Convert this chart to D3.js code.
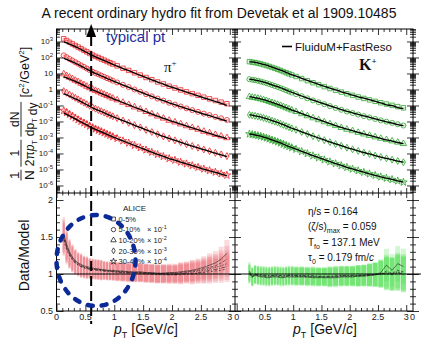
<!DOCTYPE html>
<html>
<head>
<meta charset="utf-8">
<script src="https://cdn.jsdelivr.net/npm/d3@7"></script>
<style>
  body { margin: 0; background: #fff; }
  svg { display: block; font-family: "Liberation Sans", Arial, sans-serif; }
</style>
</head>
<body>
<svg id="chart" width="421" height="343"></svg>
<script>
// ---- data ----
const centralities = ["0-5%", "5-10%", "10-20%", "20-30%", "30-40%"];
const scaleExp = [null, -1, -2, -3, -4];

const piPt = [0.125, 0.175, 0.225, 0.275, 0.325, 0.375, 0.425, 0.475, 0.525, 0.575, 0.625, 0.675, 0.725, 0.775, 0.825, 0.875, 0.925, 0.975,
  1.05, 1.15, 1.25, 1.35, 1.45, 1.55, 1.65, 1.75, 1.85, 1.95,
  2.05, 2.15, 2.25, 2.35, 2.45, 2.55, 2.65, 2.75, 2.85, 2.95];
const kPt = [0.225, 0.275, 0.325, 0.375, 0.425, 0.475, 0.525, 0.575, 0.625, 0.675, 0.725, 0.775, 0.825, 0.875, 0.925, 0.975,
  1.05, 1.15, 1.25, 1.35, 1.45, 1.55, 1.65, 1.75, 1.85, 1.95,
  2.05, 2.15, 2.25, 2.35, 2.45, 2.55, 2.65, 2.75, 2.85, 2.95];

// pi+ spectra, already multiplied by the legend scale factors
const piSpec0005 = [1480, 1150, 890, 710, 560, 450, 355, 280, 225, 178, 141, 117, 98, 81, 68, 56, 47, 39,
  30, 21, 15.5, 11, 7.9, 5.6, 4.1, 2.95, 2.2, 1.6,
  1.23, 0.93, 0.71, 0.55, 0.43, 0.33, 0.26, 0.204, 0.162, 0.129];
const piSpec0510 = [135, 105, 81, 65, 51, 41, 32, 26, 20.4, 16.2, 12.9, 10.7, 8.9, 7.4, 6.2, 5.1, 4.3, 3.55,
  2.75, 1.95, 1.41, 1.0, 0.72, 0.51, 0.37, 0.27, 0.2, 0.148,
  0.113, 0.086, 0.066, 0.051, 0.040, 0.031, 0.025, 0.0195, 0.0157, 0.0125];
const piSpec1020 = [9.3, 7.2, 5.75, 4.6, 3.7, 3.0, 2.4, 1.95, 1.55, 1.26, 1.02, 0.85, 0.71, 0.59, 0.49, 0.41, 0.34, 0.28,
  0.22, 0.155, 0.112, 0.079, 0.058, 0.041, 0.0295, 0.0214, 0.0158, 0.0117,
  0.0091, 0.0069, 0.0053, 0.0041, 0.0032, 0.0024, 0.0019, 0.0015, 0.0012, 0.00095];
const piSpec2030 = [0.79, 0.62, 0.48, 0.38, 0.30, 0.24, 0.19, 0.151, 0.12, 0.095, 0.076, 0.063, 0.052, 0.044, 0.036, 0.030, 0.025, 0.021,
  0.0162, 0.0115, 0.0083, 0.0059, 0.0043, 0.0030, 0.0022, 0.0016, 0.00117, 0.00087,
  6.6e-4, 5.0e-4, 3.8e-4, 2.95e-4, 2.3e-4, 1.78e-4, 1.4e-4, 1.1e-4, 8.7e-5, 6.9e-5];
const piSpec3040 = [0.048, 0.036, 0.0275, 0.0214, 0.0166, 0.0129, 0.0102, 0.0081, 0.0065, 0.0051, 0.0041, 0.0034, 0.0028, 0.00234, 0.00195, 0.00162, 0.00135, 0.00112,
  8.7e-4, 6.2e-4, 4.5e-4, 3.2e-4, 2.3e-4, 1.66e-4, 1.2e-4, 8.7e-5, 6.5e-5, 4.8e-5,
  3.8e-5, 2.9e-5, 2.25e-5, 1.75e-5, 1.37e-5, 1.07e-5, 8.5e-6, 6.8e-6, 5.4e-6, 4.4e-6];

// pi+ data/model
const piRat0005 = [1.55, 1.40, 1.30, 1.23, 1.18, 1.15, 1.13, 1.11, 1.10, 1.09, 1.08, 1.07, 1.07, 1.06, 1.06, 1.05, 1.05, 1.05,
  1.04, 1.04, 1.03, 1.03, 1.03, 1.02, 1.02, 1.01, 1.01, 1.02,
  1.02, 1.03, 1.04, 1.05, 1.07, 1.09, 1.12, 1.15, 1.20, 1.28];
const piRat0510 = [1.52, 1.38, 1.28, 1.22, 1.17, 1.14, 1.12, 1.10, 1.09, 1.08, 1.07, 1.07, 1.06, 1.06, 1.05, 1.05, 1.04, 1.04,
  1.04, 1.03, 1.03, 1.02, 1.02, 1.02, 1.01, 1.01, 1.01, 1.01,
  1.01, 1.02, 1.03, 1.04, 1.05, 1.07, 1.09, 1.11, 1.15, 1.20];
const piRat1020 = [1.50, 1.36, 1.27, 1.21, 1.16, 1.13, 1.11, 1.09, 1.08, 1.07, 1.07, 1.06, 1.06, 1.05, 1.05, 1.04, 1.04, 1.04,
  1.03, 1.03, 1.02, 1.02, 1.02, 1.01, 1.01, 1.00, 1.00, 1.00,
  1.00, 1.01, 1.02, 1.03, 1.04, 1.05, 1.07, 1.09, 1.11, 1.14];
const piRat2030 = [1.48, 1.35, 1.26, 1.20, 1.15, 1.12, 1.10, 1.09, 1.08, 1.07, 1.06, 1.06, 1.05, 1.05, 1.04, 1.04, 1.04, 1.03,
  1.03, 1.02, 1.02, 1.02, 1.01, 1.01, 1.00, 1.00, 1.00, 0.99,
  0.99, 1.00, 1.01, 1.01, 1.02, 1.03, 1.05, 1.06, 1.08, 1.10];
const piRat3040 = [1.46, 1.33, 1.25, 1.19, 1.15, 1.12, 1.10, 1.08, 1.07, 1.06, 1.06, 1.05, 1.05, 1.04, 1.04, 1.03, 1.03, 1.03,
  1.02, 1.02, 1.01, 1.01, 1.01, 1.00, 1.00, 0.99, 0.99, 0.99,
  0.99, 0.99, 1.00, 1.00, 1.01, 1.02, 1.03, 1.04, 1.05, 1.07];
const piErr = [0.22, 0.20, 0.18, 0.17, 0.16, 0.15, 0.15, 0.14, 0.14, 0.13, 0.13, 0.13, 0.13, 0.13, 0.12, 0.12, 0.12, 0.12,
  0.12, 0.12, 0.12, 0.12, 0.12, 0.12, 0.12, 0.12, 0.12, 0.12,
  0.12, 0.13, 0.13, 0.14, 0.14, 0.15, 0.16, 0.16, 0.17, 0.18];

// K+ spectra, already multiplied by the legend scale factors
const kSpec0005 = [55, 51, 48, 44, 40, 35.5, 31.6, 27.5, 24, 20.9, 18.2, 15.5, 13.2, 11.2, 9.5, 8.1,
  6.5, 4.8, 3.55, 2.63, 2.0, 1.51, 1.15, 0.89, 0.69, 0.54,
  0.43, 0.34, 0.275, 0.224, 0.182, 0.148, 0.123, 0.102, 0.085, 0.071];
const kSpec0510 = [4.4, 4.05, 3.8, 3.5, 3.15, 2.8, 2.5, 2.18, 1.9, 1.65, 1.44, 1.23, 1.05, 0.89, 0.75, 0.64,
  0.515, 0.38, 0.28, 0.208, 0.158, 0.12, 0.091, 0.07, 0.054, 0.042,
  0.034, 0.027, 0.0217, 0.0177, 0.0144, 0.0117, 0.0097, 0.0081, 0.0067, 0.0056];
const kSpec1020 = [0.35, 0.32, 0.30, 0.28, 0.25, 0.224, 0.2, 0.173, 0.151, 0.132, 0.115, 0.098, 0.083, 0.071, 0.06, 0.051,
  0.041, 0.03, 0.0224, 0.0166, 0.0126, 0.0094, 0.0071, 0.0054, 0.0041, 0.0032,
  0.0026, 0.00205, 0.00163, 0.00132, 0.00107, 0.00087, 0.00072, 0.0006, 0.0005, 0.00041];
const kSpec2030 = [0.026, 0.024, 0.0225, 0.0207, 0.0188, 0.0167, 0.0148, 0.0129, 0.0112, 0.0098, 0.0085, 0.0072, 0.0061, 0.0052, 0.0044, 0.0037,
  0.003, 0.0022, 0.00163, 0.0012, 0.0009, 0.00068, 0.00051, 0.00039, 0.0003, 0.00023,
  1.82e-4, 1.43e-4, 1.14e-4, 9.2e-5, 7.4e-5, 6.0e-5, 5.0e-5, 4.1e-5, 3.4e-5, 2.85e-5];
const kSpec3040 = [1.65e-3, 1.53e-3, 1.43e-3, 1.31e-3, 1.19e-3, 1.05e-3, 9.3e-4, 8.1e-4, 7.0e-4, 6.1e-4, 5.3e-4, 4.5e-4, 3.8e-4, 3.2e-4, 2.7e-4, 2.3e-4,
  1.83e-4, 1.34e-4, 9.8e-5, 7.2e-5, 5.4e-5, 4.0e-5, 3.0e-5, 2.3e-5, 1.75e-5, 1.35e-5,
  1.06e-5, 8.3e-6, 6.6e-6, 5.3e-6, 4.3e-6, 3.45e-6, 2.85e-6, 2.35e-6, 1.93e-6, 1.6e-6];

// K+ data/model
const kRat0005 = [1.04, 0.97, 0.98, 0.97, 0.96, 0.96, 0.95, 0.95, 0.96, 0.96, 0.96, 0.95, 0.95, 0.96, 0.96, 0.96,
  0.96, 0.96, 0.96, 0.95, 0.95, 0.95, 0.95, 0.95, 0.96, 0.96,
  0.96, 0.97, 0.97, 0.98, 0.99, 1.02, 1.12, 1.05, 1.14, 1.10];
const kRat0510 = [1.02, 0.96, 0.99, 0.98, 0.97, 0.97, 0.96, 0.96, 0.97, 0.97, 0.97, 0.96, 0.96, 0.97, 0.97, 0.97,
  0.97, 0.97, 0.96, 0.96, 0.96, 0.96, 0.96, 0.96, 0.97, 0.97,
  0.97, 0.97, 0.98, 0.98, 0.99, 1.00, 1.04, 1.01, 1.05, 1.03];
const kRat1020 = [0.99, 0.95, 1.00, 0.98, 0.98, 0.97, 0.97, 0.97, 0.97, 0.98, 0.97, 0.97, 0.97, 0.97, 0.98, 0.98,
  0.97, 0.97, 0.97, 0.97, 0.96, 0.96, 0.96, 0.97, 0.97, 0.97,
  0.97, 0.98, 0.98, 0.99, 0.99, 1.00, 1.02, 1.00, 1.03, 1.01];
const kRat2030 = [1.01, 0.96, 0.99, 0.99, 0.98, 0.98, 0.98, 0.97, 0.98, 0.98, 0.98, 0.98, 0.97, 0.98, 0.98, 0.98,
  0.98, 0.98, 0.97, 0.97, 0.97, 0.97, 0.97, 0.97, 0.98, 0.98,
  0.98, 0.98, 0.99, 0.99, 1.00, 1.00, 1.01, 1.00, 1.02, 1.00];
const kRat3040 = [1.00, 0.97, 1.00, 0.99, 0.99, 0.99, 0.98, 0.98, 0.98, 0.99, 0.99, 0.98, 0.98, 0.98, 0.99, 0.99,
  0.98, 0.98, 0.98, 0.98, 0.97, 0.97, 0.97, 0.98, 0.98, 0.98,
  0.98, 0.98, 0.98, 0.99, 0.99, 1.00, 1.00, 0.99, 1.01, 0.99];
const kErr = [0.12, 0.12, 0.12, 0.12, 0.12, 0.12, 0.12, 0.12, 0.12, 0.12, 0.12, 0.12, 0.12, 0.12, 0.12, 0.12,
  0.12, 0.12, 0.12, 0.12, 0.12, 0.12, 0.13, 0.13, 0.13, 0.13,
  0.13, 0.14, 0.14, 0.15, 0.16, 0.18, 0.22, 0.22, 0.24, 0.24];

// tick labels
const specExps = [3, 2, 1, 0, -1, -2, -3, -4, -5, -6];
const ratioTicks = [0.5, 1, 1.5, 2];
const ptTicks = [0, 0.5, 1, 1.5, 2, 2.5, 3];

// ---- layout ----
const svg = d3.select("#chart");
const frame = {left: 56.5, mid: 235, right: 413, top: 29, split: 193, bottom: 311};

const xPi = d3.scaleLinear().domain([0, 3.09]).range([frame.left, frame.mid]);
const xK = d3.scaleLinear().domain([-0.03, 3.12]).range([frame.mid, frame.right]);
const ySpec = d3.scaleLog().domain([Math.pow(10, -6.47), Math.pow(10, 3.78)]).range([frame.split, frame.top]);
const yRat = d3.scaleLinear().domain([0.5, 2.095]).range([frame.bottom, frame.split]);

const symbols = [d3.symbolSquare, d3.symbolCircle, d3.symbolTriangle, d3.symbolDiamond, d3.symbolStar];
const symSize = [20, 20, 18, 14, 18];
const legSize = [15, 15, 13, 10, 13];

const panels = [
  {id: "pi", x: xPi, pt: piPt, spec: [piSpec0005, piSpec0510, piSpec1020, piSpec2030, piSpec3040],
   rat: [piRat0005, piRat0510, piRat1020, piRat2030, piRat3040], err: piErr,
   mark: "#e8262a", box: "#f5a0a0", band: "#ec6a70"},
  {id: "k", x: xK, pt: kPt, spec: [kSpec0005, kSpec0510, kSpec1020, kSpec2030, kSpec3040],
   rat: [kRat0005, kRat0510, kRat1020, kRat2030, kRat3040], err: kErr,
   mark: "#2fa52f", box: "#a6e3a6", band: "#46dc46"}
];

const defs = svg.append("defs");
panels.forEach(p => {
  const [x0, x1] = p.x.range();
  defs.append("clipPath").attr("id", "top-" + p.id).append("rect")
    .attr("x", x0).attr("y", frame.top).attr("width", x1 - x0).attr("height", frame.split - frame.top);
  defs.append("clipPath").attr("id", "bot-" + p.id).append("rect")
    .attr("x", x0).attr("y", frame.split).attr("width", x1 - x0).attr("height", frame.bottom - frame.split);
});

function binEdges(pt, i) {
  const lo = i > 0 ? (pt[i] - pt[i - 1]) / 2 : (pt[1] - pt[0]) / 2;
  const hi = i < pt.length - 1 ? (pt[i + 1] - pt[i]) / 2 : (pt[i] - pt[i - 1]) / 2;
  return [pt[i] - lo, pt[i] + hi];
}

panels.forEach(p => {
  // spectra
  const gTop = svg.append("g").attr("clip-path", `url(#top-${p.id})`);
  p.spec.forEach((s, c) => {
    const pts = p.pt.map((pt, i) => ({pt, v: s[i], i}));
    gTop.append("g").selectAll("rect").data(pts).enter().append("rect")
      .attr("x", d => p.x(binEdges(p.pt, d.i)[0]) + 0.3)
      .attr("width", d => Math.max(0.5, p.x(binEdges(p.pt, d.i)[1]) - p.x(binEdges(p.pt, d.i)[0]) - 0.6))
      .attr("y", d => ySpec(d.v * 1.14))
      .attr("height", d => ySpec(d.v / 1.14) - ySpec(d.v * 1.14))
      .attr("fill", p.box).attr("opacity", 0.75);
    gTop.append("g").selectAll("path").data(pts).enter().append("path")
      .attr("transform", d => `translate(${p.x(d.pt)},${ySpec(d.v)})`)
      .attr("d", d3.symbol().type(symbols[c]).size(symSize[c]))
      .attr("fill", "none").attr("stroke", p.mark).attr("stroke-width", 0.8);
  });
  p.spec.forEach((s, c) => {
    const model = p.pt.map((pt, i) => ({pt, v: s[i] / p.rat[c][i]}));
    gTop.append("path").datum(model)
      .attr("d", d3.line().x(d => p.x(d.pt)).y(d => ySpec(d.v)).curve(d3.curveMonotoneX))
      .attr("fill", "none").attr("stroke", "#000").attr("stroke-width", 1.3);
  });

  // data / model
  const gBot = svg.append("g").attr("clip-path", `url(#bot-${p.id})`);
  p.rat.forEach((r, c) => {
    gBot.append("g").selectAll("rect").data(p.pt).enter().append("rect")
      .attr("x", (d, i) => p.x(binEdges(p.pt, i)[0]) + 0.35)
      .attr("width", (d, i) => Math.max(0.5, p.x(binEdges(p.pt, i)[1]) - p.x(binEdges(p.pt, i)[0]) - 0.7))
      .attr("y", (d, i) => yRat(r[i] + p.err[i]))
      .attr("height", (d, i) => yRat(r[i] - p.err[i]) - yRat(r[i] + p.err[i]))
      .attr("fill", p.band).attr("opacity", 0.24);
  });
  const dashes = [null, "3,1.5", "1.5,1.2", "4,1.5,1,1.5", "2,2"];
  p.rat.forEach((r, c) => {
    gBot.append("path").datum(p.pt.map((pt, i) => [pt, r[i]]))
      .attr("d", d3.line().x(d => p.x(d[0])).y(d => yRat(d[1])))
      .attr("fill", "none").attr("stroke", "#222").attr("stroke-width", 0.6)
      .attr("stroke-dasharray", dashes[c]);
  });
});

// unity line
svg.append("line").attr("x1", frame.left).attr("x2", 421)
  .attr("y1", yRat(1)).attr("y2", yRat(1)).attr("stroke", "#000").attr("stroke-width", 1);

// ---- axes (ROOT style: ticks inside, both sides on shared edges) ----
function tickAxis(orient, scale, values, size, tx, ty) {
  const axis = orient(scale).tickValues(values).tickSize(size).tickSizeOuter(0).tickFormat("");
  const g = svg.append("g").attr("transform", `translate(${tx},${ty})`).call(axis);
  g.select(".domain").remove();
  g.selectAll("text").remove();
  g.selectAll("line").attr("stroke", "#000").attr("stroke-width", 0.8);
}

const specMajor = specExps.map(k => Math.pow(10, k));
const specMinor = [];
for (let k = -7; k <= 3; k++) for (let m = 2; m <= 9; m++) {
  const v = m * Math.pow(10, k);
  if (v > ySpec.domain()[0] && v < ySpec.domain()[1]) specMinor.push(v);
}
const ratMinor = d3.range(6, 21).map(d => d / 10).filter(v => Math.abs(v * 2 - Math.round(v * 2)) > 1e-6);
const ptMinor = d3.range(1, 31).map(d => d / 10).filter(v => Math.abs(v * 2 - Math.round(v * 2)) > 1e-6);

// vertical edges
tickAxis(d3.axisRight, ySpec, specMajor, 7, frame.left, 0);
tickAxis(d3.axisRight, ySpec, specMinor, 3.5, frame.left, 0);
tickAxis(d3.axisRight, yRat, ratioTicks, 7, frame.left, 0);
tickAxis(d3.axisRight, yRat, ratMinor, 3.5, frame.left, 0);
[frame.mid, frame.right].forEach(xe => {
  [d3.axisLeft, d3.axisRight].forEach(o => {
    tickAxis(o, ySpec, specMajor, 6, xe, 0);
    tickAxis(o, ySpec, specMinor, 3, xe, 0);
    tickAxis(o, yRat, ratioTicks, 6, xe, 0);
    tickAxis(o, yRat, ratMinor, 3, xe, 0);
  });
});
// horizontal edges
panels.forEach(p => {
  tickAxis(d3.axisBottom, p.x, ptTicks, 6, 0, frame.top);
  tickAxis(d3.axisBottom, p.x, ptMinor, 3, 0, frame.top);
  [d3.axisTop, d3.axisBottom].forEach(o => {
    tickAxis(o, p.x, ptTicks, 5, 0, frame.split);
    tickAxis(o, p.x, ptMinor, 2.5, 0, frame.split);
  });
  tickAxis(d3.axisTop, p.x, ptTicks, 6, 0, frame.bottom);
  tickAxis(d3.axisTop, p.x, ptMinor, 3, 0, frame.bottom);
});

// frame
const frameG = svg.append("g").attr("fill", "none").attr("stroke", "#000").attr("stroke-width", 1);
frameG.append("rect").attr("x", frame.left).attr("y", frame.top)
  .attr("width", frame.right - frame.left).attr("height", frame.bottom - frame.top);
frameG.append("line").attr("x1", frame.left).attr("x2", frame.right).attr("y1", frame.split).attr("y2", frame.split);
frameG.append("line").attr("x1", frame.mid).attr("x2", frame.mid).attr("y1", frame.top).attr("y2", frame.bottom);

// tick labels
const lab = svg.append("g").attr("fill", "#222").attr("font-size", 9);
specExps.forEach(k => {
  const t = lab.append("text").attr("x", 53).attr("y", ySpec(Math.pow(10, k)) + 3)
    .attr("text-anchor", "end").attr("font-size", 8);
  if (k === 0) t.text("1");
  else if (k === 1) t.text("10");
  else {
    t.append("tspan").text("10");
    t.append("tspan").attr("dy", -3.5).attr("font-size", 6).text(k);
  }
});
ratioTicks.forEach(v => {
  lab.append("text").attr("x", 53).attr("y", yRat(v) + 3.2).attr("text-anchor", "end").text(v);
});
panels.forEach(p => {
  ptTicks.forEach(v => {
    lab.append("text").attr("x", p.x(v)).attr("y", 320).attr("text-anchor", "middle").text(v);
  });
});
lab.append("text").attr("x", frame.right - 0.5).attr("y", 320).attr("text-anchor", "middle").text(0);

// axis titles
function ptTitle(cx) {
  const t = svg.append("text").attr("x", cx).attr("y", 334).attr("text-anchor", "middle")
    .attr("font-size", 14).attr("fill", "#111");
  t.append("tspan").attr("font-style", "italic").text("p");
  t.append("tspan").attr("font-size", 9).attr("dy", 4).text("T");
  t.append("tspan").attr("dy", -4).text(" [GeV/");
  t.append("tspan").attr("font-style", "italic").text("c");
  t.append("tspan").text("]");
}
ptTitle(146);
ptTitle(325);

svg.append("text").attr("transform", `translate(29,${yRat(1.25)}) rotate(-90)`)
  .attr("text-anchor", "middle").attr("font-size", 14).attr("fill", "#111").text("Data/Model");

// spectra y title built from fractions, rotated
const yt = svg.append("g").attr("transform", "translate(21,110) rotate(-90)").attr("fill", "#111");
let pos = -70;
function fraction(num, denParts, fs) {
  const den = yt.append("text").attr("y", 12.5).attr("font-size", fs).attr("text-anchor", "middle");
  denParts.forEach(([txt, sub, it]) => {
    const s = den.append("tspan").text(txt);
    if (it) s.attr("font-style", "italic");
    if (sub) {
      den.append("tspan").attr("font-size", fs * 0.6).attr("dy", 3).text(sub);
      den.append("tspan").attr("dy", -3).text("");
    }
  });
  const w = den.node().getComputedTextLength();
  den.attr("x", pos + w / 2);
  yt.append("text").attr("x", pos + w / 2).attr("y", -2.5).attr("font-size", fs)
    .attr("text-anchor", "middle").text(num);
  yt.append("line").attr("x1", pos - 0.5).attr("x2", pos + w + 0.5).attr("y1", 0).attr("y2", 0)
    .attr("stroke", "#111").attr("stroke-width", 0.9);
  pos += w + 4;
}
fraction("1", [["N", null, false]], 13.5);
fraction("1", [["2π", null, false], ["p", "T", true]], 12);
fraction("dN", [["dp", "T", false], [" dy", null, false]], 12);
{
  const b = yt.append("text").attr("x", pos + 1).attr("y", 8).attr("font-size", 12.5);
  b.append("tspan").text("[");
  b.append("tspan").attr("font-style", "italic").text("c");
  b.append("tspan").attr("font-size", 8).attr("dy", -5).text("2");
  b.append("tspan").attr("dy", 5).text("/GeV");
  b.append("tspan").attr("font-size", 8).attr("dy", -5).text("2");
  b.append("tspan").attr("dy", 5).text("]");
}

// title
svg.append("text").attr("x", 219).attr("y", 18).attr("text-anchor", "middle")
  .attr("font-size", 14).attr("fill", "#111")
  .text("A recent ordinary hydro fit from Devetak et al 1909.10485");

// species labels
const piLab = svg.append("text").attr("x", 164).attr("y", 72).attr("font-family", "Liberation Serif, serif")
  .attr("font-size", 15).attr("fill", "#111");
piLab.append("tspan").text("π");
piLab.append("tspan").attr("dy", -6).attr("font-size", 9).text("+");
const kLab = svg.append("text").attr("x", 359).attr("y", 70).attr("font-family", "Liberation Serif, serif")
  .attr("font-weight", "bold").attr("font-size", 16).attr("fill", "#111");
kLab.append("tspan").text("K");
kLab.append("tspan").attr("dy", -6).attr("font-size", 9).text("+");

// model legend
svg.append("line").attr("x1", 282).attr("x2", 292).attr("y1", 46.5).attr("y2", 46.5)
  .attr("stroke", "#000").attr("stroke-width", 1.6);
svg.append("text").attr("x", 295).attr("y", 50.5).attr("font-size", 11.5).attr("fill", "#111")
  .text("FluiduM+FastReso");

// ALICE legend
const leg = svg.append("g").attr("fill", "#222");
leg.append("text").attr("x", 123).attr("y", 211).attr("font-size", 8).text("ALICE");
centralities.forEach((c, i) => {
  const ly = 219 + i * 10.6;
  leg.append("path").attr("transform", `translate(113.5,${ly})`)
    .attr("d", d3.symbol().type(symbols[i]).size(legSize[i])).attr("fill", "none")
    .attr("stroke", "#222").attr("stroke-width", 0.8);
  leg.append("text").attr("x", 118.5).attr("y", ly + 2.8).attr("font-size", 7.5).text(c);
  if (scaleExp[i] !== null) {
    const t = leg.append("text").attr("x", 147).attr("y", ly + 2.8).attr("font-size", 7.5);
    t.append("tspan").text("× 10");
    t.append("tspan").attr("dy", -3).attr("font-size", 5.5).text(scaleExp[i]);
  }
});

// fit parameters
const fp = svg.append("g").attr("fill", "#111").attr("font-size", 10);
function param(i, main, sub, rest, italicTail) {
  const t = fp.append("text").attr("x", 308).attr("y", 215 + i * 15.3);
  t.append("tspan").text(main);
  if (sub) {
    t.append("tspan").attr("font-size", 7).attr("dy", 3).text(sub);
    t.append("tspan").attr("dy", -3).text(rest);
  }
  if (italicTail) t.append("tspan").attr("font-style", "italic").text(italicTail);
}
param(0, "η/s = 0.164");
param(1, "(ζ/s)", "max", " = 0.059");
param(2, "T", "fo", " = 137.1 MeV");
param(3, "τ", "0", " = 0.179 fm/", "c");

// "typical pt" annotation
const typPt = 0.6;
svg.append("line").attr("x1", xPi(typPt)).attr("x2", xPi(typPt)).attr("y1", 36).attr("y2", 324)
  .attr("stroke", "#000").attr("stroke-width", 2).attr("stroke-dasharray", "10,5");
svg.append("path")
  .attr("d", `M${xPi(typPt)},24 L${xPi(typPt) - 5},37 L${xPi(typPt) + 5},37 Z`).attr("fill", "#000");
svg.append("text").attr("x", 106).attr("y", 42).attr("font-size", 15).attr("fill", "#1c2e9e").text("typical pt");
svg.append("ellipse").attr("cx", 96).attr("cy", 260.5).attr("rx", 39.5).attr("ry", 45.5)
  .attr("fill", "none").attr("stroke", "#0b2a97").attr("stroke-width", 4.5)
  .attr("stroke-dasharray", "5,9").attr("stroke-linecap", "round");
</script>
</body>
</html>
